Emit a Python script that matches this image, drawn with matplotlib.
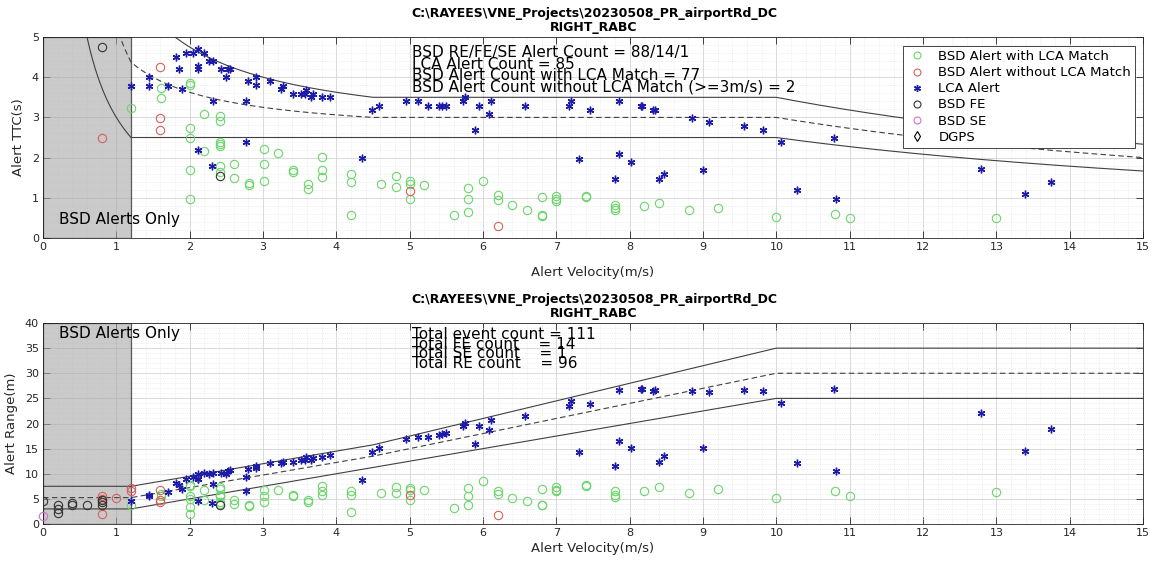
import numpy as np
import matplotlib.pyplot as plt
from matplotlib.ticker import MultipleLocator, AutoMinorLocator
from matplotlib.lines import Line2D

plt.rcParams['font.family'] = ['DejaVu Sans']

title_1 = "C:\\RAYEES\\VNE_Projects\\20230508_PR_airportRd_DC"
title_2 = "RIGHT_RABC"
top_stats = ["BSD RE/FE/SE Alert Count = 88/14/1",
             "LCA Alert Count = 85",
             "BSD Alert Count with LCA Match = 77",
             "BSD Alert Count without LCA Match (>=3m/s) = 2"]
bot_stats = ["Total event count = 111",
             "Total FE count    = 14",
             "Total SE count    = 1",
             "Total RE count    = 96"]

# zone boundaries (range in m vs velocity)
zone_vel = [0, 1.2, 4.5, 10, 15]
zone_upper = [7.5, 7.5, 15.75, 35, 35]
zone_mid = [5.25, 5.25, 13.5, 30, 30]
zone_lower = [3, 3, 11.25, 25, 25]

# LCA alerts
lca_vel = [1.20, 1.45, 1.45, 1.70, 1.82, 1.89, 1.86, 1.95, 2.04, 2.11, 2.20, 2.11, 2.12, 2.26,
           2.32, 2.32, 2.43, 2.50, 2.52, 2.55, 2.77, 2.80, 2.90, 2.91, 3.10, 3.25, 3.27, 3.41,
           3.52, 3.57, 3.59, 3.66, 3.68, 3.80, 3.91, 4.49, 4.58, 2.11, 2.30, 2.77, 4.35, 4.95,
           5.12, 5.25, 5.40, 5.44, 5.50, 5.73, 5.76, 5.94, 5.89, 6.08, 6.11, 6.57, 7.17, 7.20,
           7.46, 7.86, 8.16, 8.17, 8.32, 8.35, 8.85, 9.08, 9.56, 9.82, 7.31, 7.86, 8.02, 7.80,
           8.40, 8.47, 9.00, 10.07, 10.78, 10.28, 10.81, 12.79, 13.39, 13.75]
lca_ttc = [3.79, 4.00, 3.79, 3.79, 4.50, 3.71, 4.20, 4.60, 4.60, 4.70, 4.60, 4.27, 4.20, 4.41,
           4.41, 3.40, 4.20, 4.00, 4.20, 4.20, 3.40, 3.90, 3.81, 4.00, 3.90, 3.71, 3.79, 3.59,
           3.59, 3.59, 3.69, 3.50, 3.59, 3.50, 3.50, 3.19, 3.29, 2.18, 1.80, 2.39, 1.99, 3.40,
           3.40, 3.28, 3.28, 3.28, 3.28, 3.40, 3.50, 3.28, 2.69, 3.09, 3.40, 3.28, 3.28, 3.40,
           3.19, 3.40, 3.29, 3.28, 3.19, 3.19, 2.99, 2.89, 2.79, 2.69, 1.97, 2.09, 1.88, 1.48,
           1.48, 1.59, 1.69, 2.39, 2.49, 1.19, 0.97, 1.72, 1.09, 1.39]
lca_rng = [4.55, 5.80, 5.50, 6.44, 8.19, 7.01, 7.81, 8.97, 9.38, 9.92, 10.12, 9.01, 8.90, 9.97,
           10.23, 7.89, 10.21, 10.00, 10.58, 10.71, 9.42, 10.92, 11.05, 11.64, 12.09, 12.06, 12.39, 12.24,
           12.64, 12.82, 13.25, 12.81, 13.21, 13.30, 13.69, 14.32, 15.07, 4.60, 4.14, 6.62, 8.66, 16.83,
           17.41, 17.22, 17.71, 17.84, 18.04, 19.48, 20.16, 19.48, 15.84, 18.79, 20.77, 21.55, 23.52, 24.48,
           23.80, 26.72, 26.85, 26.80, 26.54, 26.64, 26.46, 26.24, 26.67, 26.42, 14.40, 16.43, 15.08, 11.54,
           12.43, 13.47, 15.21, 24.07, 26.84, 12.23, 10.49, 22.10, 14.60, 18.90]

# BSD alerts with LCA match
match_vel = [1.20, 1.61, 1.61, 2.01, 2.01, 2.01, 2.01, 2.01, 2.01, 2.20, 2.20, 2.41, 2.41, 2.41,
             2.41, 2.41, 2.41, 2.41, 2.61, 2.61, 2.81, 2.81, 3.01, 3.01, 3.01, 3.20, 3.41, 3.41,
             3.61, 3.61, 3.81, 3.81, 3.81, 4.20, 4.20, 4.20, 4.61, 4.82, 4.82, 5.00, 5.00, 5.00,
             5.20, 5.60, 5.80, 5.80, 5.80, 6.00, 6.20, 6.20, 6.40, 6.60, 6.80, 6.80, 6.80, 7.00,
             7.00, 7.00, 7.40, 7.40, 7.80, 7.80, 7.80, 8.20, 8.40, 8.81, 9.21, 9.99, 10.80, 11.00, 13.00]
match_ttc = [3.23, 3.73, 3.48, 3.86, 3.81, 2.74, 2.49, 1.68, 0.98, 3.08, 2.17, 3.04, 2.92, 2.40,
             2.28, 2.34, 1.78, 1.63, 1.84, 1.49, 1.38, 1.31, 2.22, 1.85, 1.43, 2.11, 1.68, 1.63,
             1.34, 1.22, 2.01, 1.70, 1.51, 1.58, 1.39, 0.56, 1.34, 1.53, 1.26, 1.43, 1.34, 0.97,
             1.32, 0.56, 1.24, 0.97, 0.65, 1.41, 1.06, 0.95, 0.81, 0.70, 1.03, 0.56, 0.55, 1.04,
             0.98, 0.93, 1.04, 1.02, 0.83, 0.75, 0.69, 0.79, 0.87, 0.70, 0.75, 0.52, 0.60, 0.50, 0.49]
match_rng = [3.88, 6.01, 5.60, 7.76, 7.66, 5.51, 5.00, 3.38, 1.97, 6.78, 4.77, 7.33, 7.04, 5.78,
             5.49, 5.64, 4.29, 3.93, 4.80, 3.89, 3.88, 3.68, 6.68, 5.57, 4.30, 6.75, 5.73, 5.56,
             4.84, 4.40, 7.66, 6.48, 5.75, 6.64, 5.84, 2.35, 6.18, 7.37, 6.07, 7.15, 6.70, 4.85,
             6.86, 3.14, 7.19, 5.63, 3.77, 8.46, 6.57, 5.89, 5.18, 4.62, 7.00, 3.81, 3.74, 7.28,
             6.86, 6.51, 7.70, 7.55, 6.47, 5.85, 5.38, 6.48, 7.31, 6.17, 6.91, 5.19, 6.48, 5.50, 6.37]

# BSD alerts without LCA match
nomatch_top_vel = [0.8, 1.6, 1.6, 1.6, 5.0, 6.2]
nomatch_top_ttc = [2.49, 4.25, 2.99, 2.68, 1.16, 0.29]
nomatch_bot_vel = [0.8, 0.8, 0.8, 1.0, 1.2, 1.2, 1.6, 1.6, 1.6, 5.0, 6.2]
nomatch_bot_rng = [5.57, 5.04, 1.99, 5.17, 7.10, 6.57, 6.80, 4.78, 4.29, 5.80, 1.80]

# BSD FE / SE
fe_top_vel = [0.8, 2.41]
fe_top_ttc = [4.75, 1.53]
fe_bot_vel = [0.0, 0.2, 0.2, 0.2, 0.4, 0.4, 0.6, 0.8, 0.8, 0.8, 2.41]
fe_bot_rng = [4.60, 3.78, 2.92, 2.12, 4.25, 3.78, 3.78, 4.78, 4.30, 3.78, 3.69]
se_bot_vel = [0.0]
se_bot_rng = [1.5]

c_green = '#6ad66a'
c_red = '#d9605a'
c_blue = '#1c1ca8'
c_se = '#d070d0'
c_line = '#404040'
asterisk = (6, 2, 0)

W, H = 1154, 563
fig = plt.figure(figsize=(W / 100, H / 100), dpi=100)
ax1 = fig.add_axes([43 / W, 1 - 238 / H, 1100 / W, 201 / H])
ax2 = fig.add_axes([43 / W, 1 - 524 / H, 1100 / W, 201 / H])


def style_axes(ax, ymax, ystep):
    ax.set_xlim(0, 15)
    ax.set_ylim(0, ymax)
    ax.xaxis.set_major_locator(MultipleLocator(1))
    ax.yaxis.set_major_locator(MultipleLocator(ystep))
    ax.xaxis.set_minor_locator(AutoMinorLocator(5))
    ax.yaxis.set_minor_locator(AutoMinorLocator(5))
    ax.set_axisbelow(True)
    ax.grid(True, which='major', color='#d4d4d4', lw=0.6)
    ax.grid(True, which='minor', color='#e2e2e2', lw=0.5, ls=':')
    ax.tick_params(which='major', direction='in', top=True, right=True, length=5,
                   width=0.6, labelsize=8, colors='#262626', pad=3)
    ax.tick_params(which='minor', length=0)
    for s in ax.spines.values():
        s.set_color('#262626')
        s.set_linewidth(0.6)
    ax.axvspan(0, 1.2, facecolor='#a8a8a8', alpha=0.6, edgecolor='k', lw=0.9, zorder=1)


# top: TTC vs velocity
style_axes(ax1, 5, 1)
v_fine = np.linspace(0.02, 15, 1500)
ax1.plot(v_fine, np.interp(v_fine, zone_vel, zone_upper) / v_fine, color=c_line, lw=0.8, zorder=2)
ax1.plot(v_fine, np.interp(v_fine, zone_vel, zone_mid) / v_fine, color=c_line, lw=0.8, ls=(0, (5, 3)), zorder=2)
ax1.plot(v_fine, np.interp(v_fine, zone_vel, zone_lower) / v_fine, color=c_line, lw=0.8, zorder=2)
ax1.plot(match_vel, match_ttc, 'o', mfc='none', mec=c_green, ms=6, mew=0.8, zorder=3)
ax1.plot(nomatch_top_vel, nomatch_top_ttc, 'o', mfc='none', mec=c_red, ms=6, mew=0.8, zorder=3)
ax1.plot(lca_vel, lca_ttc, ls='none', marker=asterisk, color=c_blue, ms=5.5, mew=1.0, zorder=4)
ax1.plot(fe_top_vel, fe_top_ttc, 'o', mfc='none', mec='#333333', ms=6, mew=0.8, zorder=3)
ax1.set_xlabel("Alert Velocity(m/s)", fontsize=9.5, color='#262626', labelpad=10)
ax1.set_ylabel("Alert TTC(s)", fontsize=9.5, color='#262626', labelpad=5)
ax1.text(0.22, 0.45, "BSD Alerts Only", fontsize=11, va='center', zorder=5)
for i, line in enumerate(top_stats):
    ax1.text(5.03, 4.50 - 0.285 * i, line, fontsize=11, va='baseline', zorder=5)

handles = [
    Line2D([], [], ls='none', marker='o', mfc='none', mec=c_green, ms=5, mew=0.8),
    Line2D([], [], ls='none', marker='o', mfc='none', mec=c_red, ms=5, mew=0.8),
    Line2D([], [], ls='none', marker=asterisk, color=c_blue, ms=5, mew=1.0),
    Line2D([], [], ls='none', marker='o', mfc='none', mec='#333333', ms=5, mew=0.8),
    Line2D([], [], ls='none', marker='o', mfc='none', mec=c_se, ms=5, mew=0.8),
    Line2D([], [], ls='none', marker='d', mfc='none', mec='k', ms=5, mew=0.8),
]
labels = ["BSD Alert with LCA Match", "BSD Alert without LCA Match", "LCA Alert",
          "BSD FE", "BSD SE", "DGPS"]
leg = ax1.legend(handles, labels, loc='upper right', bbox_to_anchor=(1135 / W, 1 - 46 / H),
                 bbox_transform=fig.transFigure, fontsize=9.5, frameon=True, fancybox=False,
                 framealpha=1, edgecolor='#262626', borderpad=0.3, labelspacing=0.24,
                 handlelength=1.5, handletextpad=0.9, borderaxespad=0)
leg.get_frame().set_linewidth(0.6)
leg.set_zorder(10)

# bottom: range vs velocity
style_axes(ax2, 40, 5)
ax2.plot(zone_vel, zone_upper, color=c_line, lw=0.8, zorder=2)
ax2.plot(zone_vel, zone_mid, color=c_line, lw=0.8, ls=(0, (5, 3)), zorder=2)
ax2.plot(zone_vel, zone_lower, color=c_line, lw=0.8, zorder=2)
ax2.plot(match_vel, match_rng, 'o', mfc='none', mec=c_green, ms=6, mew=0.8, zorder=3)
ax2.plot(nomatch_bot_vel, nomatch_bot_rng, 'o', mfc='none', mec=c_red, ms=6, mew=0.8, zorder=3)
ax2.plot(lca_vel, lca_rng, ls='none', marker=asterisk, color=c_blue, ms=5.5, mew=1.0, zorder=4)
ax2.plot(fe_bot_vel, fe_bot_rng, 'o', mfc='none', mec='#333333', ms=6, mew=0.8, zorder=3)
ax2.plot(se_bot_vel, se_bot_rng, 'o', mfc='none', mec=c_se, ms=6, mew=0.8, zorder=3, clip_on=False)
ax2.set_xlabel("Alert Velocity(m/s)", fontsize=9.5, color='#262626', labelpad=3)
ax2.set_ylabel("Alert Range(m)", fontsize=9.5, color='#262626', labelpad=5)
ax2.text(0.22, 38.0, "BSD Alerts Only", fontsize=11, va='center', zorder=5)
for i, line in enumerate(bot_stats):
    ax2.text(5.03, 36.8 - 1.9 * i, line, fontsize=11, va='baseline', zorder=5)

# titles
for ytop, ybot in [(14, 28), (299, 313)]:
    fig.text(594 / W, 1 - ytop / H, title_1, ha='center', va='center', fontsize=9, fontweight='bold')
    fig.text(594 / W, 1 - ybot / H, title_2, ha='center', va='center', fontsize=9, fontweight='bold')

fig.savefig("out.png", dpi=100)
